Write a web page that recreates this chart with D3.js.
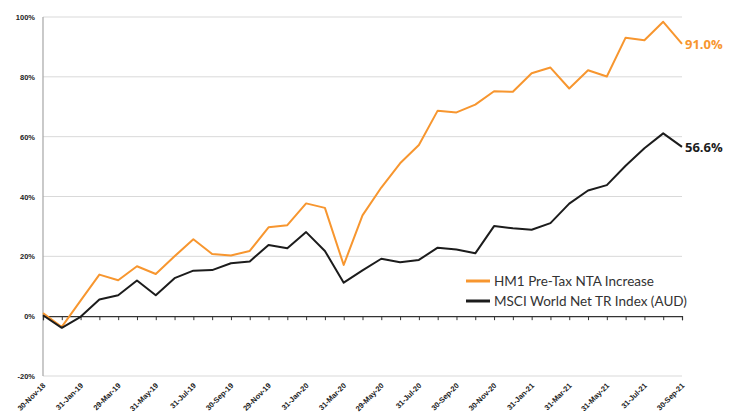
<!DOCTYPE html>
<html>
<head>
<meta charset="utf-8">
<script src="https://cdn.jsdelivr.net/npm/d3@7"></script>
<style>
  body { margin: 0; background: #fff; }
  svg { display: block; }
</style>
</head>
<body>
<svg width="734" height="416"></svg>
<script>
// chart size
const width = 734
const height = 416

// monthly points, Nov-18 .. Sep-21
const months = ["Nov-18","Dec-18","Jan-19","Feb-19","Mar-19","Apr-19","May-19","Jun-19","Jul-19","Aug-19",
  "Sep-19","Oct-19","Nov-19","Dec-19","Jan-20","Feb-20","Mar-20","Apr-20","May-20","Jun-20",
  "Jul-20","Aug-20","Sep-20","Oct-20","Nov-20","Dec-20","Jan-21","Feb-21","Mar-21","Apr-21",
  "May-21","Jun-21","Jul-21","Aug-21","Sep-21"]

// labels shown on every second month
const tickLabels = ["30-Nov-18","31-Jan-19","29-Mar-19","31-May-19","31-Jul-19","30-Sep-19","29-Nov-19",
  "31-Jan-20","31-Mar-20","29-May-20","31-Jul-20","30-Sep-20","30-Nov-20","31-Jan-21","31-Mar-21",
  "31-May-21","31-Jul-21","30-Sep-21"]

const hm1 = [1.0,-3.6,5.2,13.9,12.0,16.7,14.1,20.0,25.7,20.8,
  20.3,21.8,29.7,30.4,37.7,36.2,17.1,33.7,43.0,51.1,
  57.2,68.7,68.1,70.7,75.2,75.0,81.2,83.1,76.1,82.2,
  80.1,93.1,92.2,98.4,91.0]

const msci = [0.3,-3.9,-0.2,5.6,7.0,11.9,7.0,12.7,15.2,15.4,
  17.7,18.3,23.8,22.7,28.1,21.8,11.2,15.3,19.2,18.0,
  18.8,22.9,22.3,21.0,30.1,29.4,28.9,31.1,37.6,42.0,
  43.8,50.3,56.1,61.1,56.6]

const yTicks = [-20, 0, 20, 40, 60, 80, 100]

const series = [
  {name: "HM1 Pre-Tax NTA Increase", values: hm1, color: "#f7962f", label: "91.0%"},
  {name: "MSCI World Net TR Index (AUD)", values: msci, color: "#1c1c1c", label: "56.6%"}
]

const svg = d3.select("svg")

const plot = {left: 43, right: 682, top: 17, bottom: 376}

const x = d3.scalePoint()
  .domain(months)
  .range([plot.left, plot.right])

const y = d3.scaleLinear()
  .domain([-20, 100])
  .range([plot.bottom, plot.top])

//################### grid + axes ####################

svg.append("g")
  .selectAll("line")
  .data(yTicks.filter(d => d !== 0))
  .join("line")
  .attr("x1", plot.left)
  .attr("x2", plot.right)
  .attr("y1", d => y(d))
  .attr("y2", d => y(d))
  .style("stroke", "#d9d9d9")
  .style("stroke-width", 1)

// y axis line (grey)
svg.append("line")
  .attr("x1", plot.left).attr("x2", plot.left)
  .attr("y1", plot.top).attr("y2", plot.bottom)
  .style("stroke", "#a6a6a6")
  .style("stroke-width", 1.2)

// y tick labels
svg.append("g")
  .selectAll("text")
  .data(yTicks)
  .join("text")
  .attr("x", 35)
  .attr("y", d => y(d) + 3)
  .attr("text-anchor", "end")
  .style("font-family", "Liberation Sans, Arial, sans-serif")
  .style("font-size", "7.5px")
  .style("font-weight", "bold")
  .style("fill", "#222")
  .text(d => d + "%")

// zero axis with ticks pointing down
const xAxis = d3.axisBottom(x).tickSize(4).tickFormat("")
const xaxis_group = svg.append("g")
  .attr("transform", "translate(0," + y(0) + ")")
  .call(xAxis)
xaxis_group.select(".domain").style("stroke", "#333").style("stroke-width", 1.2)
xaxis_group.selectAll("line").style("stroke", "#333")

// rotated date labels under the plot
svg.append("g")
  .selectAll("text")
  .data(tickLabels)
  .join("text")
  .attr("transform", (d, i) => "translate(" + (x(months[i * 2]) + 3) + "," + (plot.bottom + 10) + ") rotate(-45)")
  .attr("text-anchor", "end")
  .style("font-family", "Liberation Sans, Arial, sans-serif")
  .style("font-size", "7.5px")
  .style("font-weight", "bold")
  .style("fill", "#222")
  .text(d => d)

//################### lines ####################

const line = d3.line()
  .x((d, i) => x(months[i]))
  .y(d => y(d))

svg.append("g")
  .selectAll("path")
  .data(series)
  .join("path")
  .attr("d", d => line(d.values))
  .attr("fill", "none")
  .attr("stroke", d => d.color)
  .attr("stroke-width", 2)
  .attr("stroke-linejoin", "round")

// end value labels
svg.append("g")
  .selectAll("text")
  .data(series)
  .join("text")
  .attr("x", plot.right + 3)
  .attr("y", d => y(d.values[d.values.length - 1]) + 5)
  .style("font-family", "Open Sans, sans-serif")
  .style("font-size", "13px")
  .style("font-weight", "bold")
  .style("fill", d => d.color)
  .text(d => d.label)

//################### legend ####################

const legend = svg.append("g")
  .attr("transform", "translate(466,281)")

legend.selectAll("line")
  .data(series)
  .join("line")
  .attr("x1", 0).attr("x2", 24)
  .attr("y1", (d, i) => i * 20)
  .attr("y2", (d, i) => i * 20)
  .attr("stroke", d => d.color)
  .attr("stroke-width", 3)

legend.selectAll("text")
  .data(series)
  .join("text")
  .attr("x", 28)
  .attr("y", (d, i) => i * 20 + 5)
  .style("font-family", "Lato, Open Sans, sans-serif")
  .style("font-size", "13.5px")
  .style("fill", "#333")
  .text(d => d.name)
</script>
</body>
</html>
